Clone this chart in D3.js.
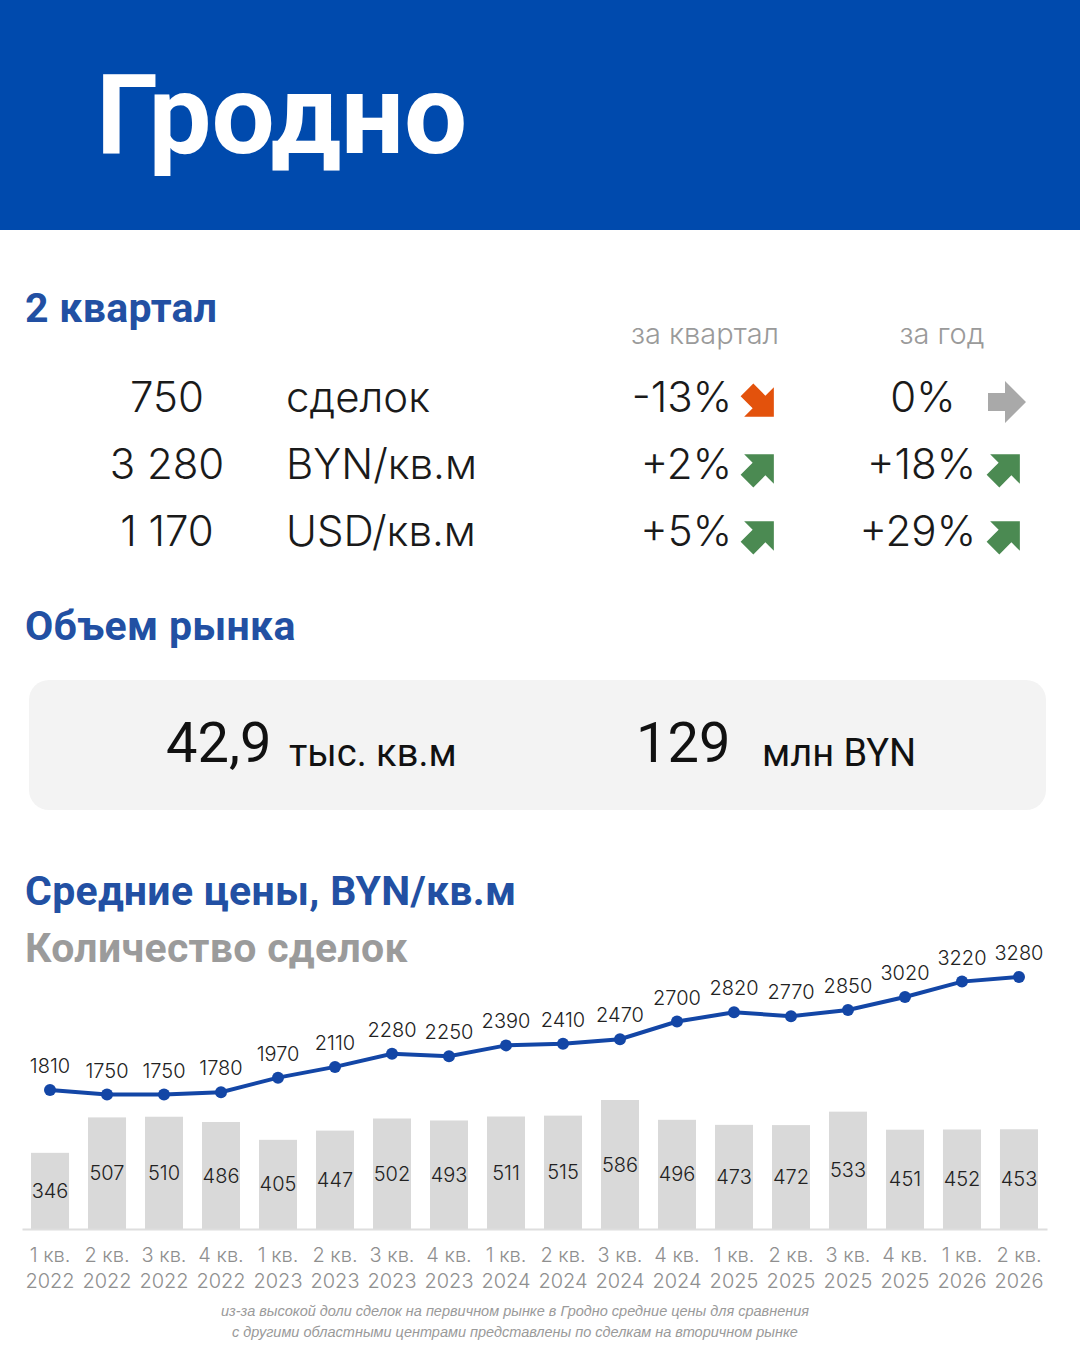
<!DOCTYPE html>
<html lang="ru">
<head>
<meta charset="utf-8">
<title>Гродно</title>
<script src="https://cdn.jsdelivr.net/npm/d3@7"></script>
<style>
  html, body { margin: 0; padding: 0; background: #fff; }
  svg { display: block; }
</style>
</head>
<body>
<div id="chart"></div>
<script>
// --- data ---
const quarters = ['1 кв.', '2 кв.', '3 кв.', '4 кв.', '1 кв.', '2 кв.', '3 кв.', '4 кв.', '1 кв.',
                  '2 кв.', '3 кв.', '4 кв.', '1 кв.', '2 кв.', '3 кв.', '4 кв.', '1 кв.', '2 кв.'];
const years = ['2022', '2022', '2022', '2022', '2023', '2023', '2023', '2023', '2024',
               '2024', '2024', '2024', '2025', '2025', '2025', '2025', '2026', '2026'];
const prices = [1810, 1750, 1750, 1780, 1970, 2110, 2280, 2250, 2390,
                2410, 2470, 2700, 2820, 2770, 2850, 3020, 3220, 3280];
const deals = [346, 507, 510, 486, 405, 447, 502, 493, 511,
               515, 586, 496, 473, 472, 533, 451, 452, 453];

const summaryValues = ['750', '3 280', '1 170'];
const summaryUnits = ['сделок', 'BYN/кв.м', 'USD/кв.м'];
const changeQuarter = ['-13%', '+2%', '+5%'];
const changeYear = ['0%', '+18%', '+29%'];
const dirQuarter = ['down', 'up', 'up'];
const dirYear = ['flat', 'up', 'up'];

const volumeValues = ['42,9', '129'];
const volumeUnits = ['тыс. кв.м', 'млн BYN'];

const W = 1080, H = 1350;
const blue = '#2250a3';
const heavy = 'Roboto, "Noto Sans", sans-serif';
const light = 'Inter, "Noto Sans", sans-serif';

const svg = d3.select('#chart').append('svg')
    .attr('width', W)
    .attr('height', H);

// header band
svg.append('rect')
    .attr('x', 0).attr('y', 0)
    .attr('width', W).attr('height', 230)
    .attr('fill', '#004aad');

svg.append('text')
    .attr('x', 96).attr('y', 153)
    .attr('font-family', heavy)
    .attr('font-weight', 700)
    .attr('font-size', 112)
    .attr('fill', '#fff')
    .text('Гродно');

function heading(txt, y, color) {
    svg.append('text')
        .attr('x', 25).attr('y', y)
        .attr('font-family', heavy)
        .attr('font-weight', 700)
        .attr('font-size', 41)
        .attr('letter-spacing', 0.3)
        .attr('fill', color)
        .text(txt);
}

heading('2 квартал', 322, blue);

// column headers
svg.append('text')
    .attr('x', 705).attr('y', 344)
    .attr('text-anchor', 'middle')
    .attr('font-family', light).attr('font-weight', 300)
    .attr('font-size', 29).attr('fill', '#9a9a9a')
    .text('за квартал');
svg.append('text')
    .attr('x', 942).attr('y', 344)
    .attr('text-anchor', 'middle')
    .attr('font-family', light).attr('font-weight', 300)
    .attr('font-size', 29).attr('fill', '#9a9a9a')
    .text('за год');

const rowY = [412, 479, 546];

const rows = svg.append('g')
    .selectAll('g')
    .data(summaryValues)
    .enter()
    .append('g')
    .attr('transform', (d, i) => 'translate(0,' + rowY[i] + ')')
    .attr('font-family', light)
    .attr('font-weight', 300)
    .attr('font-size', 42)
    .attr('fill', '#1a1a1a');

rows.append('text')
    .attr('x', 167)
    .attr('text-anchor', 'middle')
    .text(d => d);

rows.append('text')
    .attr('x', 286)
    .text((d, i) => summaryUnits[i]);

rows.append('text')
    .attr('x', 732)
    .attr('text-anchor', 'end')
    .text((d, i) => changeQuarter[i]);

rows.append('text')
    .attr('x', (d, i) => i === 0 ? 923 : 976)
    .attr('text-anchor', (d, i) => i === 0 ? 'middle' : 'end')
    .text((d, i) => changeYear[i]);

// block arrow pointing right, rotated by direction
const arrowPath = 'M-17,-9 L0,-9 L0,-21 L21,0 L0,21 L0,9 L-17,9 Z';
const arrowStyle = {
    up: { color: '#4b8a52', angle: -45 },
    down: { color: '#e3520c', angle: 45 },
    flat: { color: '#a9a9a9', angle: 0 }
};

function arrow(cx, cy, dir) {
    const s = arrowStyle[dir];
    svg.append('path')
        .attr('d', arrowPath)
        .attr('transform', 'translate(' + cx + ',' + cy + ') rotate(' + s.angle + ')')
        .attr('fill', s.color);
}

dirQuarter.forEach((d, i) => arrow(759, rowY[i] - 10, d));
dirYear.forEach((d, i) => arrow(1005, rowY[i] - 10, d));

// market volume
heading('Объем рынка', 640, blue);

svg.append('rect')
    .attr('x', 29).attr('y', 680)
    .attr('width', 1017).attr('height', 130)
    .attr('rx', 20)
    .attr('fill', '#f3f3f3');

const volX = [166, 636];
const unitX = [289, 762];
volumeValues.forEach((v, i) => {
    svg.append('text')
        .attr('x', volX[i]).attr('y', 762)
        .attr('font-family', heavy)
        .attr('font-size', 56)
        .attr('fill', '#111')
        .text(v);
    svg.append('text')
        .attr('x', unitX[i]).attr('y', 766)
        .attr('font-family', heavy)
        .attr('font-size', 38)
        .attr('fill', '#111')
        .text(volumeUnits[i]);
});

// chart
heading('Средние цены, BYN/кв.м', 905, blue);
heading('Количество сделок', 962, '#9b9b9b');

const baseY = 1229;

const x = d3.scaleBand()
    .domain(d3.range(quarters.length))
    .range([22, 1047])
    .paddingInner(0.333)
    .paddingOuter(0.158);

const yBar = d3.scaleLinear()
    .domain([0, 586])
    .range([baseY, 1100]);

const yLine = d3.scaleLinear()
    .domain([0, 3280])
    .range([baseY, 977]);

const cx = i => x(i) + x.bandwidth() / 2;

// bars
svg.append('g')
    .selectAll('rect')
    .data(deals)
    .enter()
    .append('rect')
    .attr('x', (d, i) => x(i))
    .attr('y', d => yBar(d))
    .attr('width', x.bandwidth())
    .attr('height', d => baseY - yBar(d))
    .attr('fill', '#d9d9d9');

svg.append('g')
    .selectAll('text')
    .data(deals)
    .enter()
    .append('text')
    .attr('x', (d, i) => cx(i))
    .attr('y', d => (yBar(d) + baseY) / 2)
    .attr('dy', '0.35em')
    .attr('text-anchor', 'middle')
    .attr('font-family', light)
    .attr('font-weight', 300)
    .attr('font-size', 20)
    .attr('fill', '#222')
    .text(d => d);

// x axis
const axis = svg.append('g')
    .attr('transform', 'translate(0,' + baseY + ')')
    .call(d3.axisBottom(x).tickSize(0).tickFormat(''));

axis.select('.domain')
    .attr('stroke', '#dedede')
    .attr('stroke-width', 2);

axis.selectAll('.tick text').remove();

const tickLabels = axis.selectAll('.tick')
    .append('text')
    .attr('text-anchor', 'middle')
    .attr('font-family', light)
    .attr('font-weight', 300)
    .attr('font-size', 20)
    .attr('fill', '#8f8f8f');

tickLabels.append('tspan')
    .attr('x', 0).attr('y', 33)
    .text(i => quarters[i]);
tickLabels.append('tspan')
    .attr('x', 0).attr('y', 59)
    .text(i => years[i]);

// price line
const line = d3.line()
    .x((d, i) => cx(i))
    .y(d => yLine(d));

svg.append('path')
    .datum(prices)
    .attr('d', line)
    .attr('fill', 'none')
    .attr('stroke', '#1346a6')
    .attr('stroke-width', 4);

svg.append('g')
    .selectAll('circle')
    .data(prices)
    .enter()
    .append('circle')
    .attr('cx', (d, i) => cx(i))
    .attr('cy', d => yLine(d))
    .attr('r', 6)
    .attr('fill', '#1346a6');

svg.append('g')
    .selectAll('text')
    .data(prices)
    .enter()
    .append('text')
    .attr('x', (d, i) => cx(i))
    .attr('y', d => yLine(d) - 17)
    .attr('text-anchor', 'middle')
    .attr('font-family', light)
    .attr('font-weight', 300)
    .attr('font-size', 20)
    .attr('fill', '#222')
    .text(d => d);

// footnote
const notes = [
    'из-за высокой доли сделок на первичном рынке в Гродно средние цены для сравнения',
    'с другими областными центрами представлены по сделкам на вторичном рынке'
];
svg.append('g')
    .selectAll('text')
    .data(notes)
    .enter()
    .append('text')
    .attr('x', 515)
    .attr('y', (d, i) => 1316 + i * 21)
    .attr('text-anchor', 'middle')
    .attr('font-family', '"Liberation Sans Narrow", "Liberation Sans", sans-serif')
    .attr('font-style', 'italic')
    .attr('font-size', 14.5)
    .attr('fill', '#9a9a9a')
    .text(d => d);
</script>
</body>
</html>
